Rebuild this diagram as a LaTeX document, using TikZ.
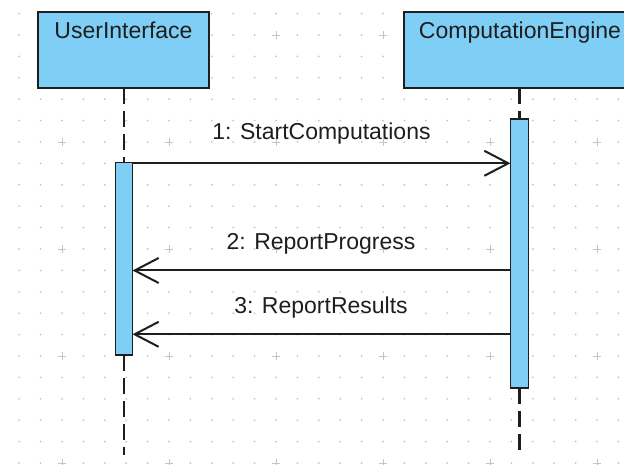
\documentclass[tikz,border=0pt]{standalone}
\usepackage{fontspec}
\setmainfont{Liberation Sans}
\usetikzlibrary{arrows.meta,calc}
\definecolor{lifeblue}{HTML}{7FCEF5}
\definecolor{inkgray}{HTML}{1E1E1E}
\definecolor{gridgray}{HTML}{C4C4C4}
\begin{document}
\begin{tikzpicture}[x=1pt,y=-1pt,
  every node/.style={inner sep=0pt,outer sep=0pt},
  txt/.style={font=\fontsize{23}{27}\selectfont,text=inkgray},
  objbox/.style={draw=inkgray,line width=2pt,fill=lifeblue,rectangle},
  actbar/.style={draw=inkgray,line width=1.8pt,fill=lifeblue,rectangle,minimum width=17pt},
  lifeline/.style={draw=inkgray,line width=2.4pt,dash pattern=on 16pt off 7pt},
  msg/.style={draw=inkgray,line width=2pt,-{Straight Barb[length=24pt,width=25pt,line width=2pt]}},
  griddot/.style={fill=gridgray},
  gridplus/.style={draw=gridgray,line width=0.9pt}]
\useasboundingbox (0,0) rectangle (624,465);
\clip (0,0) rectangle (624,465);

% dotted background grid with crosses every fifth step
\foreach \i in {0,...,28}{
  \foreach \j in {0,...,21}{
    \pgfmathsetmacro{\gx}{19.2+21.4*\i}
    \pgfmathsetmacro{\gy}{13.6+21.4*\j}
    \pgfmathtruncatemacro{\ci}{mod(\i,5)}
    \pgfmathtruncatemacro{\cj}{mod(\j,5)}
    \ifnum\ci=2 \ifnum\cj=1
      \draw[gridplus] (\gx-4,\gy) -- (\gx+4,\gy) (\gx,\gy-4) -- (\gx,\gy+4);
    \else
      \fill[griddot] (\gx,\gy) circle (1pt);
    \fi\else
      \fill[griddot] (\gx,\gy) circle (1pt);
    \fi
  }
}

% object boxes
\node[objbox,minimum width=171pt,minimum height=76pt] (ui) at (123.5,50) {};
\node[objbox,minimum width=232pt,minimum height=76pt] (ce) at (519.5,50) {};
\node[txt,anchor=base] (uiname) at (123.5,38.5) {UserInterface};
\node[txt,anchor=base] (cename) at (520,38.5) {ComputationEngine};

% activation bars
\node[actbar,minimum height=192.5pt] (uibar) at (124,258.75) {};
\node[actbar,minimum width=18pt,minimum height=269pt] (cebar) at (519.5,253.5) {};

% lifelines
\coordinate (uiend) at (124,455);
\coordinate (ceend) at (519.5,455);
\draw[lifeline] (ui.south -| uibar.north) -- (uibar.north);
\draw[lifeline] (uibar.south) -- (uiend);
\draw[lifeline] (ce.south -| cebar.north) -- (cebar.north);
\draw[lifeline] (cebar.south) -- (ceend);

% messages
\coordinate (y1) at (0,163.3);
\coordinate (y2) at (0,270.5);
\coordinate (y3) at (0,334.3);
\draw[msg] (uibar.east |- y1) -- (cebar.west |- y1);
\draw[msg] (cebar.west |- y2) -- (uibar.east |- y2);
\draw[msg] (cebar.west |- y3) -- (uibar.east |- y3);
\node[txt,anchor=base] (m1) at (321.5,140) {1: StartComputations};
\node[txt,anchor=base] (m2) at (321,250) {2: ReportProgress};
\node[txt,anchor=base] (m3) at (321,313) {3: ReportResults};
\end{tikzpicture}
\end{document}
